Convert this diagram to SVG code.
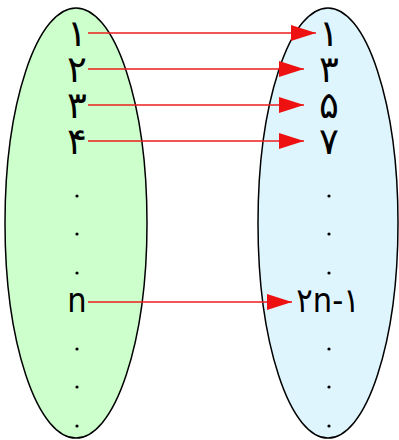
<svg xmlns="http://www.w3.org/2000/svg" width="399" height="440" viewBox="0 0 399 440">
<style>
.el{stroke:#000;stroke-width:1.5}
.t{font-family:"DejaVu Sans",sans-serif;font-size:37px;fill:#000;text-anchor:middle}
.n{font-family:"DejaVu Sans Condensed","DejaVu Sans",sans-serif;font-size:34px}
.c{stroke:#ee1c1c;stroke-width:1.5;fill:none}
.d{fill:#000}
</style>
<defs>
<marker id="ah" markerWidth="25" markerHeight="16" refX="25" refY="8" orient="auto" markerUnits="userSpaceOnUse">
<path d="M0,0 L25,8 L0,16 Z" fill="#ee1111"/>
</marker>
</defs>
<rect width="399" height="440" fill="#fff"/>
<g id="setA">
<ellipse class="el" cx="76" cy="223" rx="71" ry="215" fill="#ccffcc"/>
<text class="t" x="77" y="46">۱</text>
<text class="t" x="77" y="82">۲</text>
<text class="t" x="77" y="118">۳</text>
<text class="t" x="77" y="154">۴</text>
<circle class="d" cx="77" cy="196" r="1.6"/>
<circle class="d" cx="77" cy="234" r="1.6"/>
<circle class="d" cx="77" cy="273" r="1.6"/>
<text class="t n" x="77" y="312">n</text>
<circle class="d" cx="77" cy="349" r="1.6"/>
<circle class="d" cx="77" cy="387" r="1.6"/>
<circle class="d" cx="77" cy="426" r="1.6"/>
</g>
<g id="setB">
<ellipse class="el" cx="328" cy="223" rx="70" ry="215" fill="#dff5fd"/>
<text class="t" x="329" y="46">۱</text>
<text class="t" x="329" y="82">۳</text>
<text class="t" x="329" y="118">۵</text>
<text class="t" x="329" y="154">۷</text>
<circle class="d" cx="329" cy="196" r="1.6"/>
<circle class="d" cx="329" cy="234" r="1.6"/>
<circle class="d" cx="329" cy="273" r="1.6"/>
<text class="t n" x="328" y="312">۲n-۱</text>
<circle class="d" cx="329" cy="349" r="1.6"/>
<circle class="d" cx="329" cy="387" r="1.6"/>
<circle class="d" cx="329" cy="426" r="1.6"/>
</g>
<g id="connectors">
<line class="c" x1="88" y1="33" x2="316" y2="33" marker-end="url(#ah)"/>
<line class="c" x1="88" y1="69" x2="304" y2="69" marker-end="url(#ah)"/>
<line class="c" x1="88" y1="105" x2="304" y2="105" marker-end="url(#ah)"/>
<line class="c" x1="88" y1="141" x2="304" y2="141" marker-end="url(#ah)"/>
<line class="c" x1="88" y1="302" x2="292" y2="302" marker-end="url(#ah)"/>
</g>
</svg>
